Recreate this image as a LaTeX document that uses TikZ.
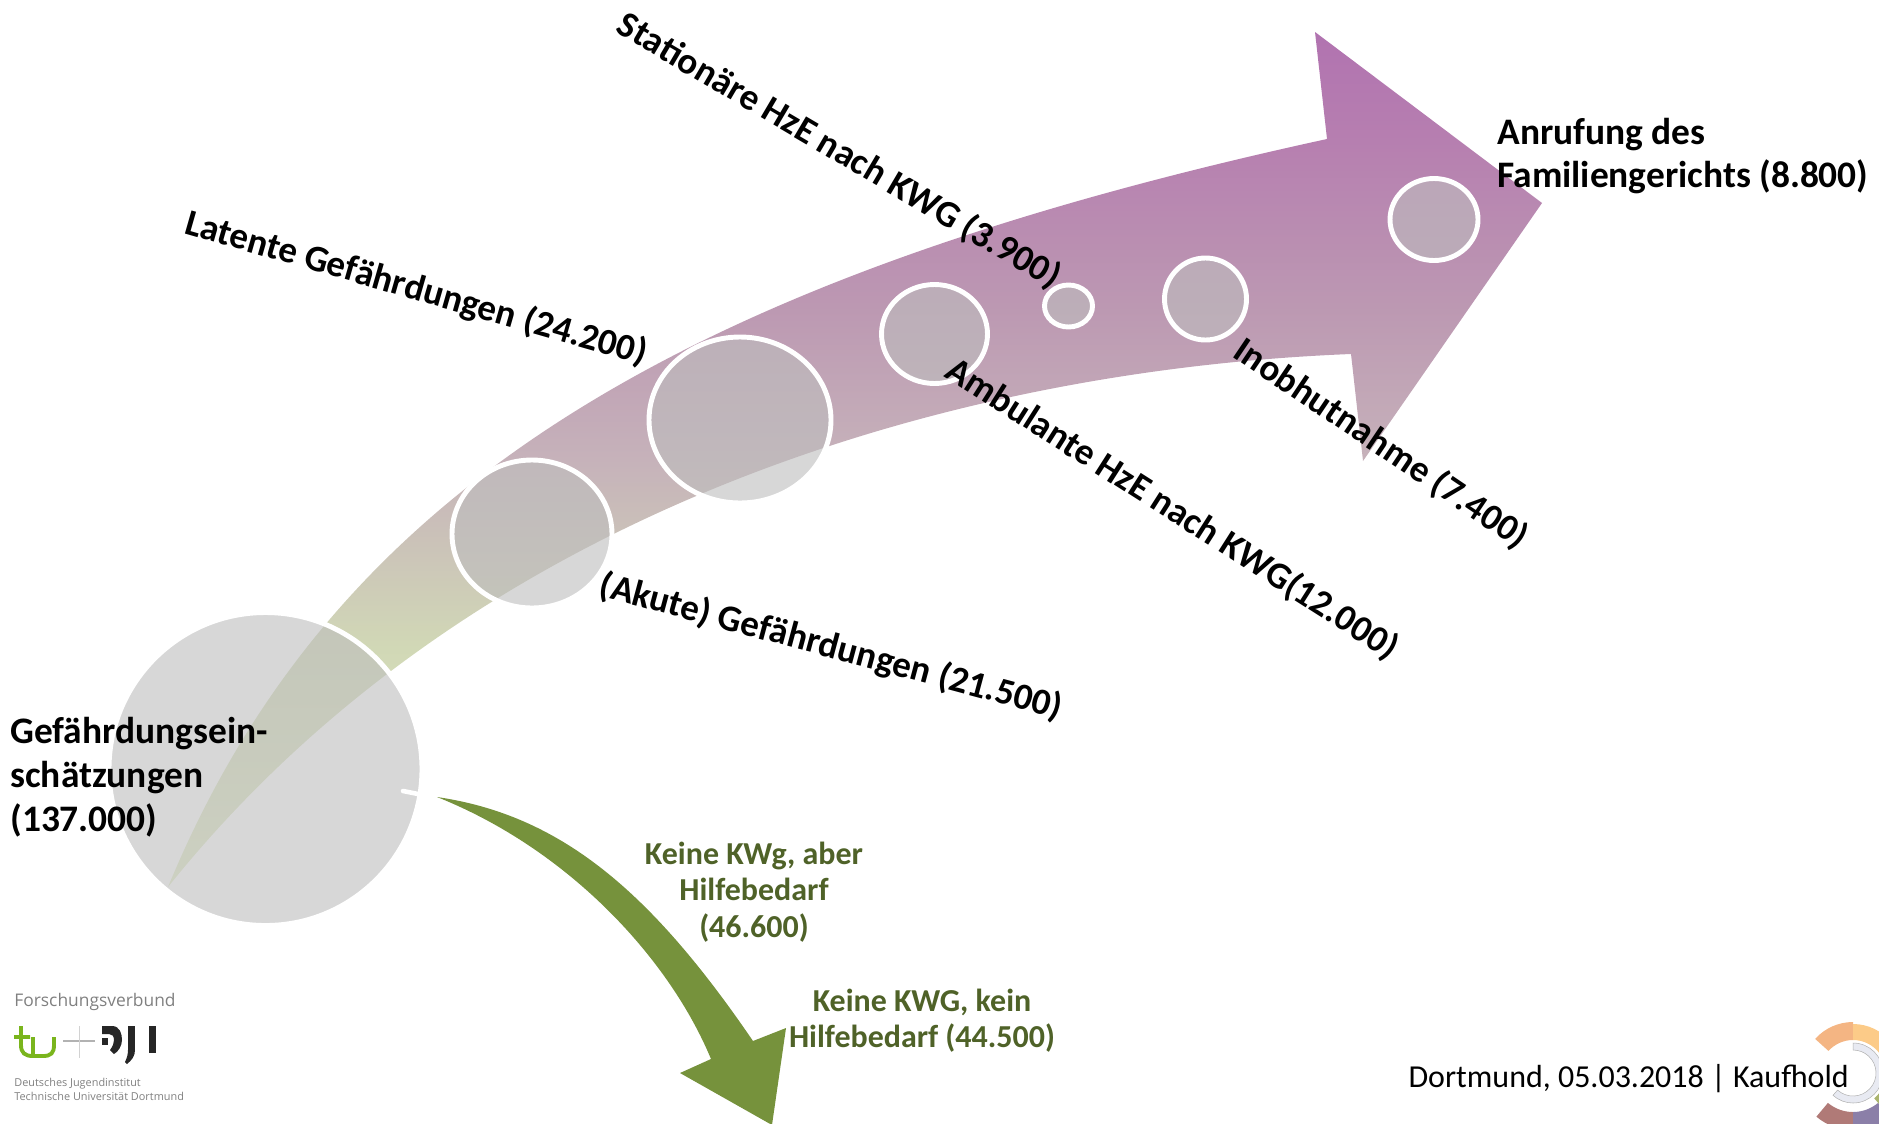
\documentclass[tikz,border=0pt]{standalone}
\usepackage{xcolor}
\usepackage{fontspec}
\setmainfont{Carlito}
\newfontfamily\logofont{Open Sans}
\definecolor{keepgreen}{HTML}{76923C}
\definecolor{notegreen}{HTML}{4F6228}
\definecolor{stagegrey}{HTML}{BDBDBD}
\definecolor{tugreen}{HTML}{7AB51D}
\definecolor{fadea}{HTML}{E4EEC8}
\definecolor{fadeb}{HTML}{D1D8B6}
\definecolor{fadec}{HTML}{C6B2BA}
\definecolor{faded}{HTML}{BC98B2}
\definecolor{fadee}{HTML}{B67EB0}
\definecolor{fadef}{HTML}{B173B0}
\pgfdeclareverticalshading{stagefade}{100bp}{color(0bp)=(fadea); color(25bp)=(fadea);
  color(39bp)=(fadeb); color(50bp)=(fadec); color(59bp)=(faded); color(69bp)=(fadee);
  color(75bp)=(fadef); color(100bp)=(fadef)}
\tikzset{
  stagecircle/.style={fill=stagegrey, fill opacity=0.6, draw=white, line width=2.8pt},
  stagelabel/.style={font=\bfseries\fontsize{21.3}{25}\selectfont, text=black, inner sep=0pt},
  tiltlabel/.style={font=\bfseries\fontsize{21.1}{25}\selectfont, text=black, inner sep=0pt},
  exitlabel/.style={font=\bfseries\fontsize{18.2}{20.6}\selectfont, text=notegreen, inner sep=0pt, align=center},
  logotext/.style={text=gray, anchor=base west, inner sep=0pt}
}
\newcommand{\ringpart}[5]{\fill[#5] (#1:#4) arc[start angle=#1, end angle=#2, radius=#4] -- (#2:#3) arc[start angle=#2, end angle=#1, radius=#3] -- cycle;}
\begin{document}
\begin{tikzpicture}[x=0.02cm, y=-0.02cm]
  \useasboundingbox (0,0) rectangle (1879,1123);

  \shade[shading=stagefade] (168,887) .. controls (330,495) and (670,282) .. (1327,139)
    -- (1315,32) -- (1542,203) -- (1363,461) -- (1351,354)
    .. controls (950,370) and (470,510) .. (168,887) -- cycle;
  \fill[keepgreen] (437,797) .. controls (560,815) and (650,890) .. (753,1041)
    -- (786,1028) -- (772,1125) -- (680,1073) -- (711,1059)
    .. controls (670,960) and (570,850) .. (437,797) -- cycle;

  \draw[stagecircle] (265.5,769) circle (156.5);
  \draw[white, line width=2.6pt, line cap=round] (403,791) -- (418,794);
  \draw[stagecircle] (532,534) ellipse (80 and 74);
  \draw[stagecircle] (740,420) ellipse (91 and 83);
  \draw[stagecircle] (934.5,334) ellipse (53 and 49.5);
  \draw[stagecircle] (1068.5,306) ellipse (24 and 21);
  \draw[stagecircle] (1205.5,299) ellipse (41 and 41);
  \draw[stagecircle] (1434,219.5) ellipse (44 and 41);

  \node (screening) [stagelabel, align=left, anchor=west] at (10,777) {Gefährdungsein-\\schätzungen\\(137.000)};
  \node (latent) [tiltlabel, rotate=-16] at (416,289) {Latente Gefährdungen (24.200)};
  \node (acute) [tiltlabel, rotate=-15] at (831,647) {(Akute) Gefährdungen (21.500)};
  \node (outpatient) [tiltlabel, rotate=-32.5] at (1172,509) {Ambulante HzE nach KWG(12.000)};
  \node (residential) [tiltlabel, rotate=-30.5] at (839,151) {Stationäre HzE nach KWG (3.900)};
  \node (custody) [tiltlabel, rotate=-34] at (1381,444) {Inobhutnahme (7.400)};
  \node (court) [stagelabel, align=left, anchor=west] at (1497,156) {Anrufung des\\Familiengerichts (8.800)};

  \node (needhelp) [exitlabel] at (754,892) {Keine KWg, aber\\Hilfebedarf\\(46.600)};
  \node (nohelp) [exitlabel] at (922,1021) {Keine KWG, kein\\Hilfebedarf (44.500)};

  \begin{scope}[shift={(1853,1073)}, y=0.02cm]
    \ringpart{90}{138}{33}{51}{fill={rgb,255:red,244;green,181;blue,131}}
    \ringpart{38}{90}{33}{49}{fill={rgb,255:red,252;green,203;blue,136}}
    \ringpart{230}{270}{39}{57}{fill={rgb,255:red,176;green,122;blue,119}}
    \ringpart{270}{310}{39}{57}{fill={rgb,255:red,139;green,127;blue,168}}
    \ringpart{310}{322}{33}{51}{fill={rgb,255:red,170;green,180;blue,110}}
    \filldraw[fill={rgb,255:red,232;green,234;blue,242}, draw=gray!60, line width=0.3pt] (90:30) arc[start angle=90, end angle=-132, radius=30] -- (-132:23) arc[start angle=-132, end angle=90, radius=23] -- cycle;
  \end{scope}
  \node (stamp) [font=\fontsize{18.2}{20}\selectfont, anchor=base east, inner sep=0pt] at (1849,1087) {Dortmund, 05.03.2018 | Kaufhold};

  \node (network) [logotext, font=\logofont\fontsize{9.9}{12}\selectfont] at (14,1006) {Forschungsverbund};
  \draw[tugreen, line width=2.2pt] (14,1037) -- (30,1037) (21,1026) -- (21,1045) .. controls (21,1053) and (25,1056) .. (33,1056) -- (43,1056) .. controls (51,1056) and (54,1053) .. (54,1045) -- (54,1037) (33,1037) -- (33,1056);
  \draw[gray!60, line width=0.8pt] (63,1041) -- (95,1041);
  \draw[gray!35, line width=0.5pt] (79,1026) -- (79,1058);
  \fill[black!85] (102,1026) -- (112,1026) .. controls (120,1026) and (122,1034) .. (122,1040) .. controls (122,1046) and (118,1052) .. (114,1054) -- (110,1050) .. controls (113,1046) and (114,1043) .. (114,1040) .. controls (114,1036) and (112,1034) .. (109,1034) -- (102,1034) -- cycle;
  \fill[black!85] (102,1038) rectangle (108,1045);
  \fill[black!85] (128,1026) rectangle (135,1050);
  \fill[black!85] (128,1050) -- (135,1050) .. controls (135,1056) and (132,1060) .. (127,1064) -- (125,1062) .. controls (127,1058) and (128,1054) .. (128,1050) -- cycle;
  \fill[black!85] (148.5,1026) rectangle (156,1053);
  \node (institute) [logotext, font=\logofont\fontsize{6.2}{7}\selectfont] at (14,1086) {Deutsches Jugendinstitut};
  \node (university) [logotext, font=\logofont\fontsize{6.2}{7}\selectfont] at (14,1100) {Technische Universität Dortmund};
\end{tikzpicture}
\end{document}
